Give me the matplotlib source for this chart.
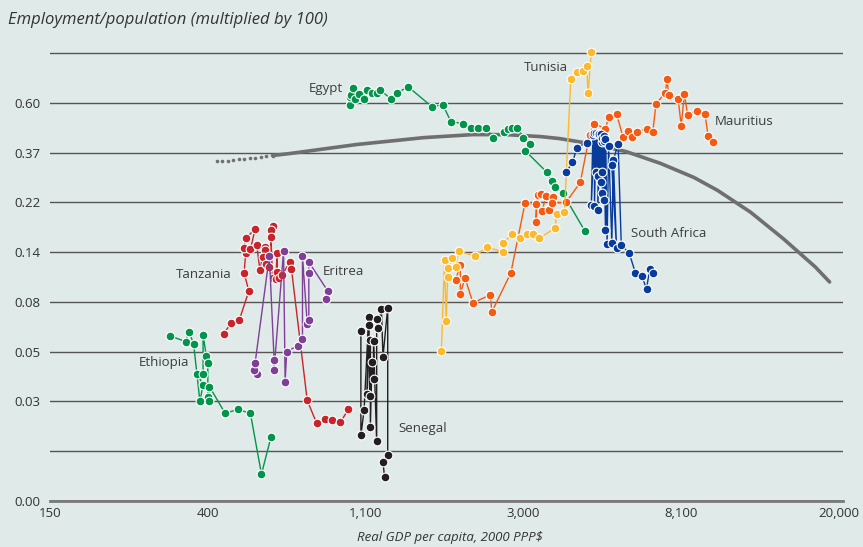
import matplotlib
matplotlib.use("Agg")
import matplotlib.pyplot as plt

# values are natural logs: x = ln(real GDP per capita), y = ln(employment/population)
ethiopia_x = [5.76, 5.86, 5.88, 5.91, 5.95, 5.97, 5.93, 5.97, 5.97, 5.99, 6.00, 6.00, 6.01, 6.01, 6.11, 6.19, 6.27, 6.34, 6.40]
ethiopia_y = [-2.84, -2.90, -2.80, -2.92, -3.50, -3.33, -3.22, -3.22, -2.83, -3.04, -3.11, -3.46, -3.50, -3.35, -3.62, -3.58, -3.62, -4.23, -3.86]

tanzania_x = [6.10, 6.15, 6.20, 6.26, 6.23, 6.24, 6.23, 6.24, 6.30, 6.27, 6.31, 6.33, 6.36, 6.36, 6.35, 6.37, 6.39,
              6.41, 6.40, 6.40, 6.41, 6.43, 6.44, 6.44, 6.45, 6.47, 6.52, 6.53, 6.63, 6.69, 6.74, 6.79, 6.84, 6.89]
tanzania_y = [-2.82, -2.71, -2.68, -2.39, -2.21, -2.01, -1.96, -1.86, -1.77, -1.97, -1.93, -2.18, -1.95, -1.98, -2.05, -2.12, -2.15,
              -1.74, -1.78, -1.85, -2.26, -2.27, -2.01, -2.20, -2.26, -2.23, -2.10, -2.17, -3.49, -3.72, -3.68, -3.69, -3.71, -3.58]

eritrea_x = [6.31, 6.29, 6.30, 6.39, 6.42, 6.42, 6.48, 6.49, 6.50, 6.57, 6.60, 6.60, 6.63, 6.64, 6.64, 6.64, 6.76, 6.75]
eritrea_y = [-3.22, -3.18, -3.11, -2.04, -3.08, -3.18, -1.99, -3.30, -3.00, -2.94, -2.87, -2.04, -2.72, -2.68, -2.21, -2.10, -2.39, -2.47]

senegal_x = [6.97, 6.97, 6.99, 7.02, 7.01, 7.02, 7.03, 7.03, 7.03, 7.04, 7.05, 7.05, 7.07, 7.07, 7.08, 7.10, 7.11, 7.14, 7.14, 7.11, 7.12]
senegal_y = [-2.79, -3.84, -3.59, -2.65, -3.43, -2.73, -3.45, -2.88, -3.76, -3.10, -3.27, -2.89, -3.90, -2.67, -2.76, -2.57, -3.05, -2.56, -4.04, -4.11, -4.26]

egypt_x = [6.90, 6.90, 6.91, 6.92, 6.93, 6.96, 6.99, 7.01, 7.04, 7.07, 7.09, 7.16, 7.20, 7.27, 7.42, 7.49, 7.54,
           7.62, 7.67, 7.71, 7.76, 7.81, 7.88, 7.90, 7.93, 7.96, 8.00, 8.04, 8.01, 8.15, 8.18, 8.20, 8.25, 8.39]
egypt_y = [-0.52, -0.44, -0.42, -0.35, -0.46, -0.41, -0.46, -0.37, -0.40, -0.40, -0.37, -0.46, -0.40, -0.34, -0.54, -0.52, -0.69,
           -0.71, -0.75, -0.75, -0.75, -0.85, -0.79, -0.76, -0.75, -0.75, -0.85, -0.91, -0.98, -1.20, -1.29, -1.35, -1.41, -1.79]

tunisia_x = [7.48, 7.50, 7.51, 7.52, 7.52, 7.55, 7.57, 7.59, 7.69, 7.77, 7.87, 7.87, 7.93, 7.98, 8.02, 8.06, 8.10,
             8.20, 8.21, 8.26, 8.30, 8.34, 8.38, 8.40, 8.41, 8.43]
tunisia_y = [-2.99, -2.08, -2.69, -2.25, -2.16, -2.06, -2.15, -1.99, -2.04, -1.95, -2.00, -1.91, -1.82, -1.86, -1.82, -1.82, -1.86,
             -1.76, -1.62, -1.60, -0.26, -0.19, -0.18, -0.13, -0.40, 0.01]

mauritius_x = [7.57, 7.60, 7.60, 7.63, 7.68, 7.79, 7.80, 7.92, 8.01, 8.08, 8.08, 8.09, 8.11, 8.14, 8.12, 8.16, 8.19, 8.18,
               8.27, 8.36, 8.42, 8.45, 8.52, 8.54, 8.59, 8.63, 8.66, 8.69, 8.72, 8.78, 8.82, 8.84, 8.90, 8.91, 8.92,
               8.98, 9.00, 9.02, 9.04, 9.10, 9.15, 9.17, 9.20]
mauritius_y = [-2.28, -2.13, -2.42, -2.26, -2.51, -2.43, -2.60, -2.21, -1.51, -1.52, -1.70, -1.43, -1.42, -1.44, -1.59, -1.58, -1.45, -1.51,
               -1.50, -1.30, -0.82, -0.71, -0.76, -0.64, -0.61, -0.84, -0.78, -0.84, -0.79, -0.76, -0.79, -0.51, -0.40, -0.26, -0.42,
               -0.46, -0.73, -0.41, -0.62, -0.58, -0.61, -0.83, -0.89]

south_africa_x = [8.27, 8.31, 8.34, 8.40, 8.44, 8.43, 8.45, 8.45, 8.46, 8.46, 8.47, 8.47, 8.48, 8.47, 8.49, 8.49, 8.50, 8.50,
                  8.50, 8.50, 8.51, 8.51, 8.51, 8.52, 8.52, 8.53, 8.54, 8.56, 8.57, 8.59, 8.56, 8.60, 8.62, 8.67, 8.71,
                  8.75, 8.78, 8.80, 8.82]
south_africa_y = [-1.20, -1.10, -0.95, -0.90, -0.82, -1.53, -0.80, -1.54, -0.80, -1.20, -0.81, -1.24, -0.81, -1.58, -0.81, -1.30, -0.89, -1.20,
                  -0.85, -1.41, -0.83, -1.48, -0.88, -1.78, -0.86, -1.92, -0.93, -1.91, -1.07, -1.96, -1.13, -0.91, -1.93, -2.01, -2.21,
                  -2.24, -2.37, -2.17, -2.21]

# fitted curve: separate dots at the low-income end, then a dense band
fit_dots_x = [6.06, 6.09, 6.13, 6.16, 6.20, 6.23, 6.27, 6.30, 6.34, 6.37, 6.41]
fit_dots_y = [-1.09, -1.08, -1.08, -1.07, -1.06, -1.06, -1.05, -1.05, -1.04, -1.03, -1.03]
fit_x = [6.41, 6.52, 6.94, 7.37, 7.68, 7.89, 8.11, 8.23, 8.42, 8.65, 8.87, 9.08, 9.23, 9.44, 9.65, 9.85, 9.94]
fit_y = [-1.03, -1.01, -0.92, -0.85, -0.82, -0.82, -0.84, -0.86, -0.91, -0.99, -1.11, -1.25, -1.38, -1.60, -1.87, -2.15, -2.30]

x_ticks = [5, 6, 7, 8, 9, 10]
x_tick_labels = ['150', '400', '1,100', '3,000', '8,100', '20,000']
y_ticks = [-4.5, -4.0, -3.5, -3.0, -2.5, -2.0, -1.5, -1.0, -0.5, 0.0]
y_tick_labels = ['0.00', '', '0.03', '0.05', '0.08', '0.14', '0.22', '0.37', '0.60', '']

bg = '#e0eae8'
plt.rcParams['font.family'] = ['Open Sans', 'DejaVu Sans']

fig = plt.figure(figsize=(8.63, 5.47), dpi=100, facecolor=bg)
ax = fig.add_axes([50 / 863, 1 - 501 / 547, 793 / 863, 454 / 547])
ax.set_facecolor(bg)

ax.plot(fit_dots_x, fit_dots_y, 'o', color='#6f6f6f', ms=2.6, mec='none', zorder=2)
ax.plot(fit_x, fit_y, '-', color='#6f6f6f', lw=2.6, solid_capstyle='round', zorder=2)

series = [
    (ethiopia_x, ethiopia_y, '#00954a'),
    (tanzania_x, tanzania_y, '#c8242b'),
    (eritrea_x, eritrea_y, '#7f3f98'),
    (senegal_x, senegal_y, '#231f20'),
    (egypt_x, egypt_y, '#00954a'),
    (mauritius_x, mauritius_y, '#f55a12'),
    (tunisia_x, tunisia_y, '#fdb92e'),
    (south_africa_x, south_africa_y, '#083c9c'),
]
for i, (xs, ys, c) in enumerate(series):
    ax.plot(xs, ys, '-o', color=c, lw=1.0, ms=6.3, mfc=c, mec='white', mew=0.8,
            zorder=3 + i, clip_on=False)

# country names
labels = [
    ('Ethiopia', 5.56, -3.11, 'left'),
    ('Tanzania', 6.15, -2.23, 'right'),
    ('Eritrea', 6.73, -2.19, 'left'),
    ('Senegal', 7.21, -3.77, 'left'),
    ('Egypt', 6.64, -0.36, 'left'),
    ('Tunisia', 8.00, -0.15, 'left'),
    ('Mauritius', 9.21, -0.69, 'left'),
    ('South Africa', 8.68, -1.81, 'left'),
]
for name, lx, ly, ha in labels:
    ax.text(lx, ly, name, fontsize=9.5, color='#3c3c3c', ha=ha, va='center', zorder=20)

ax.set_xlim(5, 10.025)
ax.set_ylim(-4.5, 0.06)
ax.set_xticks(x_ticks)
ax.set_xticklabels(x_tick_labels)
ax.set_yticks(y_ticks)
ax.set_yticklabels(y_tick_labels)
ax.tick_params(length=0, labelsize=9.5, labelcolor='#333333')
ax.tick_params(axis='y', pad=7)
ax.tick_params(axis='x', pad=4)
ax.grid(axis='y', color='#555555', lw=1.0, zorder=1)
for s in ['top', 'right', 'left']:
    ax.spines[s].set_visible(False)
ax.spines['bottom'].set_color('#7a7a7a')
ax.spines['bottom'].set_linewidth(2.0)
ax.spines['bottom'].set_zorder(1.5)

fig.text(8 / 863, 1 - 20 / 547, 'Employment/population (multiplied by 100)', fontsize=12,
         style='italic', color='#333333', va='center', ha='left')
fig.text(450 / 863, 1 - 538 / 547, 'Real GDP per capita, 2000 PPP$', fontsize=9.5,
         style='italic', color='#333333', va='center', ha='center')

fig.savefig('out.png', dpi=100, facecolor=bg)
